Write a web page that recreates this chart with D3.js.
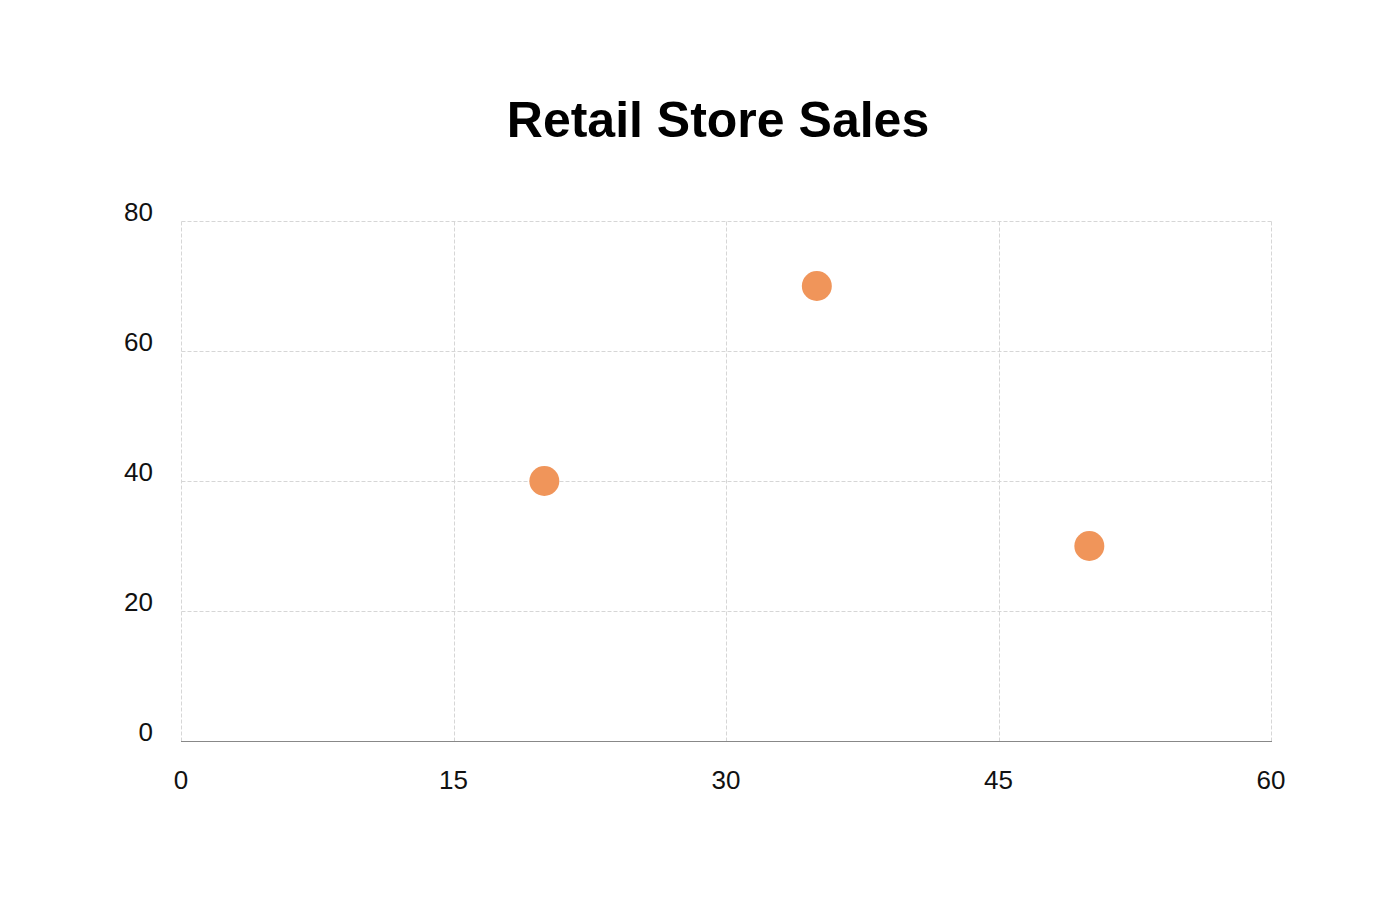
<!DOCTYPE html>
<html>
<head>
<meta charset="utf-8">
<script src="https://cdn.jsdelivr.net/npm/d3@7"></script>
<style>
  body { margin: 0; background: #fff; }
  text { font-family: "Liberation Sans", Arial, sans-serif; }
</style>
</head>
<body>
<div id="vis"></div>
<script>

// data
var storeX = [20, 35, 50];
var storeY = [40, 70, 30];
var xTicks = [0, 15, 30, 45, 60];
var yTicks = [0, 20, 40, 60, 80];
var title = 'Retail Store Sales';


function drawChart(){
  var w = 1400, h = 900;
  var left = 181, right = 1271, top = 221, bottom = 741;

  var svg = d3.select('#vis')
              .append('svg')
              .attr('width', w)
              .attr('height', h);

  var x = d3.scaleLinear().domain([0, 60]).range([left, right]);
  var y = d3.scaleLinear().domain([0, 80]).range([bottom, top]);

  svg.append('text')
    .attr('x', 718)
    .attr('y', 137)
    .attr('text-anchor', 'middle')
    .style('font-size', '50px')
    .style('font-weight', 'bold')
    .text(title);

  // grid
  var grid = svg.append('g').attr('class', 'grid')
    .attr('transform', 'translate(0.5,0.5)');
  grid.selectAll('line.v')
    .data(xTicks)
    .enter()
    .append('line')
    .attr('class', 'v')
    .attr('x1', function(d){ return Math.round(x(d)); })
    .attr('x2', function(d){ return Math.round(x(d)); })
    .attr('y1', top)
    .attr('y2', bottom)
    .style('stroke', '#d6d6d6')
    .style('stroke-width', 1)
    .style('stroke-dasharray', '4,2');

  grid.selectAll('line.h')
    .data(yTicks.filter(function(d){ return d > 0; }))
    .enter()
    .append('line')
    .attr('class', 'h')
    .attr('x1', left)
    .attr('x2', right)
    .attr('y1', function(d){ return Math.round(y(d)); })
    .attr('y2', function(d){ return Math.round(y(d)); })
    .style('stroke', '#d6d6d6')
    .style('stroke-width', 1)
    .style('stroke-dasharray', '4,2');

  // bottom axis line
  svg.append('line')
    .attr('x1', left)
    .attr('x2', right + 1)
    .attr('y1', y(0) + 0.5)
    .attr('y2', y(0) + 0.5)
    .style('stroke', '#888888')
    .style('stroke-width', 1);

  // tick labels
  svg.append('g').selectAll('text')
    .data(yTicks)
    .enter()
    .append('text')
    .attr('x', 153)
    .attr('y', function(d){ return y(d); })
    .attr('text-anchor', 'end')
    .style('font-size', '26px')
    .style('fill', '#111')
    .text(function(d){ return d; });

  svg.append('g').selectAll('text')
    .data(xTicks)
    .enter()
    .append('text')
    .attr('x', function(d){ return x(d); })
    .attr('y', 789)
    .attr('text-anchor', 'middle')
    .style('font-size', '26px')
    .style('fill', '#111')
    .text(function(d){ return d; });

  // points
  svg.append('g').selectAll('circle')
    .data(storeX)
    .enter()
    .append('circle')
    .attr('cx', function(d){ return x(d); })
    .attr('cy', function(d,i){ return y(storeY[i]); })
    .attr('r', 15)
    .attr('fill', '#f0955a');
}

drawChart();
</script>
</body>
</html>
